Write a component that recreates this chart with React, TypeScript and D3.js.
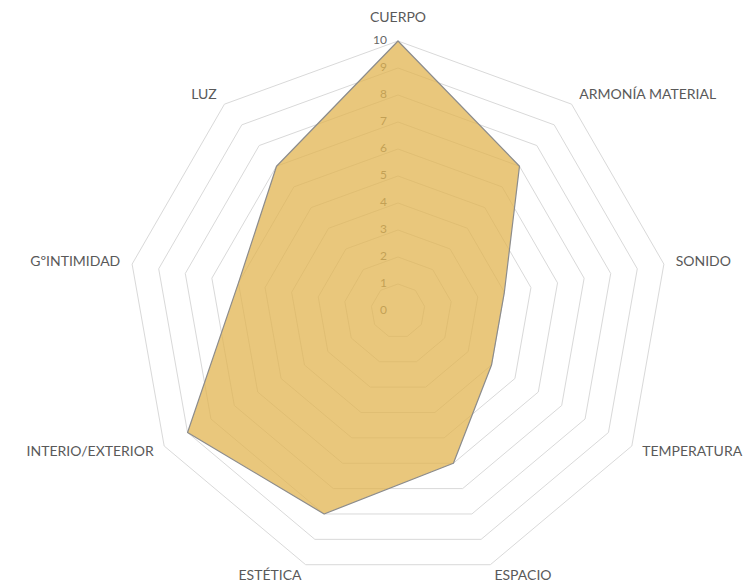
import * as d3 from 'd3';

const CATEGORIES = ['CUERPO', 'ARMONÍA MATERIAL', 'SONIDO', 'TEMPERATURA', 'ESPACIO', 'ESTÉTICA', 'INTERIO/EXTERIOR', 'GºINTIMIDAD', 'LUZ'];
const VALUES = [10, 7, 4, 4, 6, 8, 9, 6, 7];
const TICKS = [0, 1, 2, 3, 4, 5, 6, 7, 8, 9, 10];

const W = 754, H = 586;
const CX = 398, CY = 311, R = 270;
const FONT = 'Lato, "Open Sans", sans-serif';

export default function App() {
  const n = CATEGORIES.length;
  const ang = d3.scaleLinear().domain([0, n]).range([0, 2 * Math.PI]);
  const r = d3.scaleLinear().domain([0, 10]).range([0, R]);

  const pt = (i: number, v: number): [number, number] => [
    CX + r(v) * Math.sin(ang(i)),
    CY - r(v) * Math.cos(ang(i)),
  ];

  const ring = (v: number) => d3.line()(d3.range(n).map(i => pt(i, v)))! + 'Z';
  const area = d3.line()(VALUES.map((v, i) => pt(i, v)))! + 'Z';

  return (
    <svg width={W} height={H} viewBox={`0 0 ${W} ${H}`}
      style={{ position: 'absolute', left: 0, top: 0, background: '#fff' }}>
      {/* grid rings */}
      {TICKS.map(t => (
        <path key={t} d={ring(t)} fill="none" stroke="#D9D9D9" strokeWidth={1} />
      ))}

      {/* value labels sit under the translucent fill */}
      {TICKS.map(t => (
        <text key={'t' + t} x={CX - 11} y={CY - r(t)} textAnchor="end" dominantBaseline="middle"
          fontFamily={FONT} fontSize={12} fill="#666666">{t}</text>
      ))}

      <path d={area} fill="#E2B450" fillOpacity={0.75} stroke="#8C8C8C" strokeWidth={1.2} strokeLinejoin="round" />

      {/* category labels */}
      {CATEGORIES.map((c, i) => {
        const a = ang(i);
        const s = Math.sin(a), co = Math.cos(a);
        const [x, y] = [CX + (R + 12) * s, CY - (R + 12) * co];
        const anchor = s > 0.1 ? 'start' : s < -0.1 ? 'end' : 'middle';
        return (
          <text key={c} x={x} y={anchor === 'middle' ? y - 11 : y} textAnchor={anchor} dominantBaseline="middle"
            fontFamily={FONT} fontSize={14} fill="#595959">{c}</text>
        );
      })}
    </svg>
  );
}
